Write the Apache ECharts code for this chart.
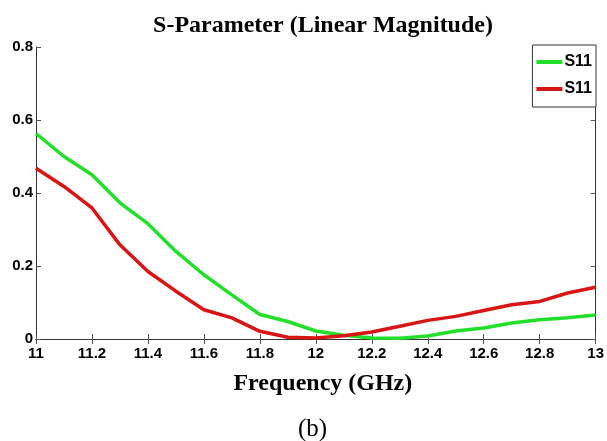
<!DOCTYPE html>
<html>
<head>
<meta charset="utf-8">
<script src="https://cdn.jsdelivr.net/npm/echarts@6/dist/echarts.min.js"></script>
<style>
html, body { margin: 0; padding: 0; background: #fff; }
#main { width: 607px; height: 441px; }
</style>
</head>
<body>
<div id="main"></div>
<script>
var freq = [11.0, 11.1, 11.2, 11.3, 11.4, 11.5, 11.6, 11.7, 11.8, 11.9, 12.0,
            12.1, 12.2, 12.3, 12.4, 12.5, 12.6, 12.7, 12.8, 12.9, 13.0];
var s11Green = [0.563, 0.50, 0.45, 0.373, 0.316, 0.24, 0.176, 0.121, 0.067, 0.048, 0.022,
                0.010, 0.003, 0.002, 0.008, 0.022, 0.030, 0.044, 0.053, 0.058, 0.066];
var s11Red = [0.468, 0.418, 0.359, 0.258, 0.185, 0.131, 0.080, 0.058, 0.021, 0.005, 0.003,
              0.009, 0.019, 0.035, 0.051, 0.062, 0.078, 0.094, 0.103, 0.126, 0.142];
var seriesNames = ['S11', 'S11'];

function pairs(ys) {
    return freq.map(function (f, i) { return [f, ys[i]]; });
}

var myChart = echarts.init(document.getElementById('main'));
var tickFont = {
    fontFamily: '"Liberation Sans Narrow", "Liberation Sans", Arial, sans-serif',
    fontWeight: 'bold',
    fontSize: 15,
    color: '#000'
};
var axisLine = { show: true, lineStyle: { color: '#333', width: 1 } };
var axisTick = { show: true, inside: true, length: 5, lineStyle: { color: '#555' } };

myChart.setOption({
    animation: false,
    backgroundColor: '#fff',
    title: {
        text: 'S-Parameter (Linear Magnitude)',
        left: 318,
        textAlign: 'center',
        top: 9,
        textStyle: {
            fontFamily: '"Liberation Serif", "Times New Roman", serif',
            fontWeight: 'bold',
            fontSize: 24,
            color: '#000'
        }
    },
    legend: {
        right: 11,
        top: 45,
        orient: 'vertical',
        itemWidth: 26,
        itemHeight: 4,
        itemGap: 11,
        padding: [9, 4, 10, 4],
        borderColor: '#333',
        borderWidth: 1,
        backgroundColor: '#fff',
        icon: 'rect',
        textStyle: {
            fontFamily: '"Liberation Sans Narrow", "Liberation Sans", Arial, sans-serif',
            fontWeight: 'bold',
            fontSize: 16,
            color: '#000',
            padding: [0, 0, 0, -3]
        },
        data: [
            { name: seriesNames[0], itemStyle: { color: '#22e02a' } },
            { name: 'S11 ', itemStyle: { color: '#d81414' } }
        ],
        formatter: function (n) { return n.trim(); }
    },
    grid: { left: 36, right: 10, top: 47, bottom: 102, containLabel: false },
    xAxis: [{
        type: 'value',
        min: 11, max: 13, interval: 0.2,
        position: 'bottom',
        name: 'Frequency (GHz)',
        nameLocation: 'middle',
        nameGap: 33,
        nameTextStyle: {
            fontFamily: '"Liberation Serif", "Times New Roman", serif',
            fontWeight: 'bold',
            fontSize: 24,
            color: '#000',
            padding: [0, 0, 0, 14]
        },
        axisLine: axisLine,
        axisTick: axisTick,
        splitLine: { show: false },
        axisLabel: Object.assign({ margin: 7, formatter: function (v) { return +v.toFixed(1); } }, tickFont)
    }, {
        type: 'value',
        min: 11, max: 13, interval: 0.2,
        position: 'top',
        axisLine: axisLine,
        axisTick: axisTick,
        splitLine: { show: false },
        axisLabel: { show: false }
    }],
    yAxis: [{
        type: 'value',
        min: 0, max: 0.8, interval: 0.2,
        position: 'left',
        axisLine: axisLine,
        axisTick: axisTick,
        splitLine: { show: false },
        axisLabel: Object.assign({ margin: 3, formatter: function (v) { return +v.toFixed(1); } }, tickFont)
    }, {
        type: 'value',
        min: 0, max: 0.8, interval: 0.2,
        position: 'right',
        axisLine: axisLine,
        axisTick: axisTick,
        splitLine: { show: false },
        axisLabel: { show: false }
    }],
    graphic: [{
        type: 'text',
        left: 298,
        top: 417,
        style: {
            text: '(b)',
            font: '25px "Liberation Serif", "Times New Roman", serif',
            fill: '#000'
        }
    }],
    series: [{
        name: seriesNames[0],
        type: 'line',
        showSymbol: false,
        data: pairs(s11Green),
        lineStyle: { color: '#22e02a', width: 3.5 },
        itemStyle: { color: '#22e02a' }
    }, {
        name: 'S11 ',
        type: 'line',
        showSymbol: false,
        data: pairs(s11Red),
        lineStyle: { color: '#d81414', width: 3.5 },
        itemStyle: { color: '#d81414' }
    }]
});
</script>
</body>
</html>
